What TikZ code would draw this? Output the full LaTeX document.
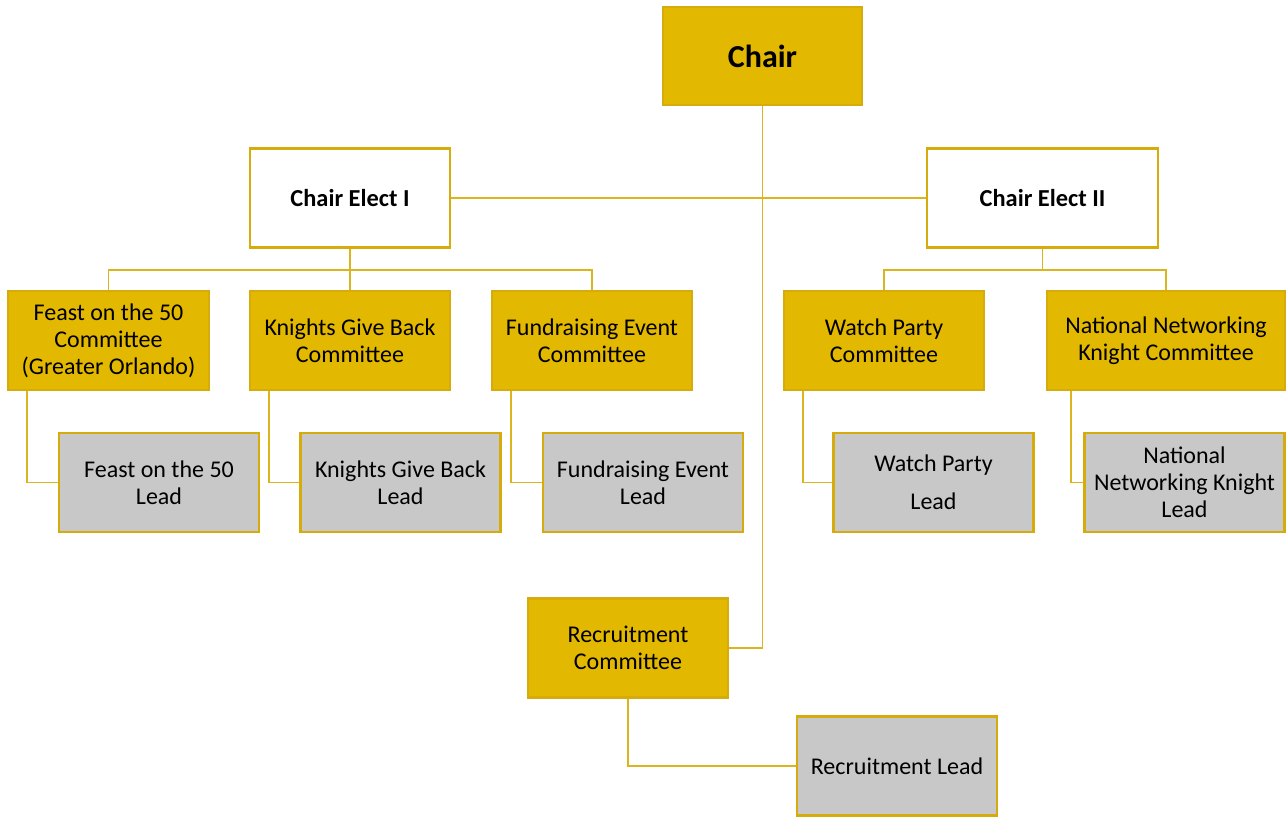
\documentclass[tikz,border=0pt]{standalone}
\usepackage{fontspec}
\setmainfont{Carlito}
\usetikzlibrary{calc}
\definecolor{goldfill}{RGB}{227,184,0}
\definecolor{goldline}{RGB}{214,172,12}
\definecolor{conn}{RGB}{220,180,30}
\definecolor{grayfill}{RGB}{200,200,200}
\tikzset{
  base/.style={draw=goldline, line width=1.6pt, inner sep=0pt, align=center,
    minimum width=150pt, minimum height=74.25pt, font=\fontsize{18}{20.25}\selectfont},
  goldbox/.style={base, fill=goldfill},
  whitebox/.style={base, fill=white, font=\fontsize{18.3}{20.25}\selectfont\bfseries},
  graybox/.style={base, fill=grayfill},
  link/.style={draw=conn, line width=1.4pt},
}
\begin{document}
\begin{tikzpicture}[x=0.75pt,y=-0.75pt]
\useasboundingbox (0,0) rectangle (1287,817);
% nodes
\node[goldbox, minimum width=149.25pt, minimum height=73.5pt, font=\fontsize{24}{28}\selectfont\bfseries] (chair) at (762.5,56) {Chair};
\node[whitebox] (ce1) at (350,198) {Chair Elect I};
\node[whitebox, minimum width=173.25pt] (ce2) at (1042.5,198) {Chair Elect II};

\node[goldbox, minimum width=150.75pt] (c1) at (108.5,340.5) {Feast on the 50\\Committee\\(Greater Orlando)};
\node[goldbox] (c2) at (350,340.5) {Knights Give Back\\Committee};
\node[goldbox] (c3) at (592,340.5) {Fundraising Event\\Committee};
\node[goldbox] (c4) at (884,340.5) {Watch Party\\Committee};
\node[goldbox, minimum width=178.5pt] (c5) at (1166,340.5) {National Networking\\Knight Committee};

\node[graybox] (l1) at (159,482.5) {Feast on the 50\\Lead};
\node[graybox] (l2) at (400.5,482.5) {Knights Give Back\\Lead};
\node[graybox] (l3) at (643,482.5) {Fundraising Event\\Lead};
\node[graybox, font=\fontsize{18}{28.5}\selectfont] (l4) at (933.5,482.5) {Watch Party\\Lead};
\node[graybox] (l5) at (1184.5,482.5) {National\\Networking Knight\\Lead};

\node[goldbox] (rc) at (628,648) {Recruitment\\Committee};
\node[graybox] (rl) at (897,766) {Recruitment Lead};

\coordinate (b1) at (350,270);
\coordinate (b2) at (1042.5,270);

% connectors
\draw[link] (chair.south) |- (rc.east);
\draw[link] (ce1.east) -- (ce2.west);
\draw[link] (ce1.south) -- (c2.north);
\draw[link] (c1.north) |- (b1) -| (c3.north);
\draw[link] (ce2.south) -- (b2);
\draw[link] (c4.north) |- (b2) -| (c5.north);

\draw[link] ($(c1.south west)!0.1!(c1.south east)$) |- (l1.west);
\draw[link] ($(c2.south west)!0.1!(c2.south east)$) |- (l2.west);
\draw[link] ($(c3.south west)!0.1!(c3.south east)$) |- (l3.west);
\draw[link] ($(c4.south west)!0.1!(c4.south east)$) |- (l4.west);
\draw[link] ($(c5.south west)!0.105!(c5.south east)$) |- (l5.west);
\draw[link] (rc.south) |- (rl.west);
\end{tikzpicture}
\end{document}
